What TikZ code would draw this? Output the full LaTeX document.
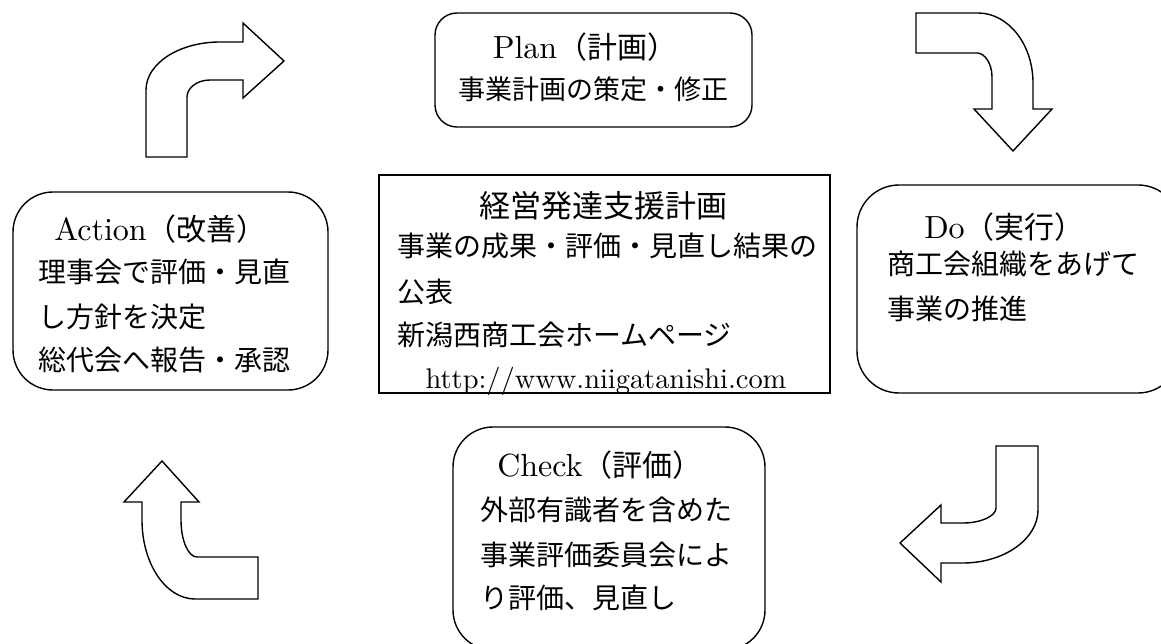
\documentclass[tikz,border=0pt]{standalone}
\usepackage{fontspec}
\setmainfont{lmroman10-regular.otf}
\newfontfamily\jp{Noto Sans CJK JP}
\newcommand\jpt[1]{{\fontsize{30}{36}\selectfont\jp #1}}
\tikzset{
  box/.style={draw, line width=1.4pt, inner sep=0pt},
  rbox/.style={box, rounded corners=#1},
  bent/.style={draw, line width=1.4pt, line join=miter, fill=white},
  ttl/.style={anchor=base, inner sep=0pt, font=\fontsize{32}{36}\selectfont},
  txt/.style={anchor=base west, inner sep=0pt, font=\fontsize{28}{44}\selectfont\jp},
}
\begin{document}
\begin{tikzpicture}[x=1pt,y=-1pt]
\useasboundingbox (0,0) rectangle (1161,644);
\fill[white] (0,0) rectangle (1161,644);

% boxes
\node[rbox=22pt, minimum width=317pt, minimum height=114pt] (plan) at (593.5,70) {};
\node[box, minimum width=451pt, minimum height=218pt] (center) at (604.5,284) {};
\node[rbox=40pt, minimum width=315pt, minimum height=198pt] (action) at (170.5,291) {};
\node[rbox=42pt, minimum width=323pt, minimum height=208pt] (do) at (1018.5,289) {};
\node[rbox=40pt, minimum width=312pt, minimum height=223pt] (check) at (609,538.5) {};

% Plan
\node[ttl] (planT) at (585,59) {Plan\jpt{（計画）}};
\node[txt, anchor=base, font=\fontsize{27}{44}\selectfont\jp] (planA) at (593,100) {事業計画の策定・修正};

% center
\node[ttl, font=\fontsize{31}{36}\selectfont\jp] (cenT) at (603,218) {経営発達支援計画};
\node[txt] (cenA) at (397,257) {事業の成果・評価・見直し結果の};
\node[txt] (cenB) at (397,302) {公表};
\node[txt] (cenC) at (397,345) {新潟西商工会ホームページ};
\node[anchor=base, inner sep=0pt, font=\fontsize{28.4}{34}\selectfont] (cenD) at (606,388) {http://www.niigatanishi.com};

% Action
\node[ttl] (actT) at (160.5,241) {Action\jpt{（改善）}};
\node[txt] (actA) at (38,283) {理事会で評価・見直};
\node[txt] (actB) at (38,327) {し方針を決定};
\node[txt] (actC) at (38,370) {総代会へ報告・承認};

% Do
\node[ttl] (doT) at (1004.5,239) {Do\jpt{（実行）}};
\node[txt] (doA) at (887,274) {商工会組織をあげて};
\node[txt] (doB) at (887,319) {事業の推進};

% Check
\node[ttl] (chkT) at (600,476) {Check\jpt{（評価）}};
\node[txt] (chkA) at (480,520) {外部有識者を含めた};
\node[txt] (chkB) at (480,565) {事業評価委員会によ};
\node[txt] (chkC) at (480,608) {り評価、見直し};

% bent arrows
\draw[bent] (146,157) -- (146,90) .. controls (146,63.5) and (179,42) .. (220,42)
  -- (243,42) -- (243,23) -- (284,61) -- (243,98) -- (243,80) -- (210,80)
  .. controls (197,80) and (187,88) .. (187,97) -- (187,157) -- cycle;
\draw[bent] (916,13) -- (978,13) .. controls (1008,13) and (1033,44) .. (1033,83)
  -- (1033,109) -- (1052,109) -- (1013,151) -- (974,109) -- (992,109) -- (992,77)
  .. controls (992,64) and (985,53) .. (977,53) -- (916,53) -- cycle;
\draw[bent] (996,446) -- (1038,446) -- (1038,510) .. controls (1038,539) and (1004,563) .. (963,563)
  -- (941,563) -- (941,582) -- (900,543) -- (941,505) -- (941,523) -- (963,523)
  .. controls (981,523) and (996,516) .. (996,508) -- cycle;
\draw[bent] (258,557) -- (197,557) .. controls (188,557) and (181,540) .. (181,520)
  -- (181,502) -- (199,502) -- (162,461) -- (124,502) -- (142,502) -- (142,520)
  .. controls (142,564) and (166,599) .. (195,599) -- (258,599) -- cycle;
\end{tikzpicture}
\end{document}
